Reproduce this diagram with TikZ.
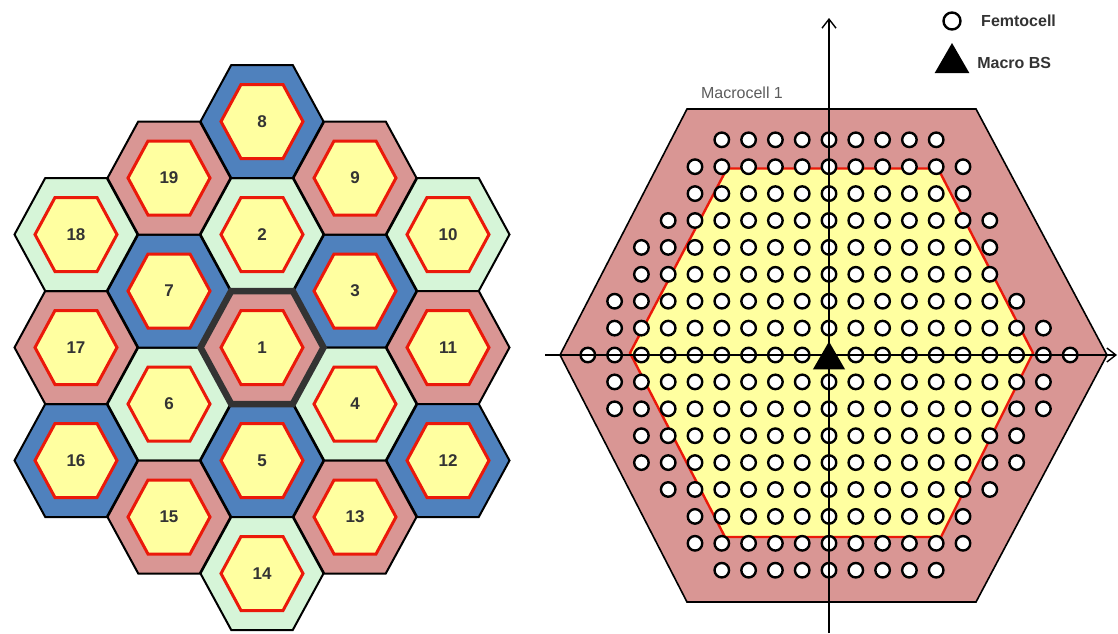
\documentclass[tikz,border=0pt]{standalone}
\usepackage{fontspec}
\setmainfont{Liberation Sans}
\usetikzlibrary{positioning, arrows.meta, shapes.geometric}

\definecolor{cellpink}{RGB}{217,150,148}
\definecolor{cellblue}{RGB}{79,129,189}
\definecolor{cellgreen}{RGB}{214,245,216}
\definecolor{cellyellow}{RGB}{255,255,160}
\definecolor{cellred}{RGB}{235,25,10}
\definecolor{labelgray}{RGB}{51,51,51}

\begin{document}
\begin{tikzpicture}[
  x=1pt, y=-1pt,
  outerhex/.style={draw=black, line width=2pt, line join=miter},
  innerhex/.style={draw=cellred, fill=cellyellow, line width=3pt, line join=miter},
  cellnum/.style={font=\bfseries\fontsize{17}{17}\selectfont, text=labelgray},
  femto/.style={circle, draw=black, fill=white, line width=2.4pt, minimum size=14.5pt, inner sep=0pt},
  bs/.style={regular polygon, regular polygon sides=3, fill=black, inner sep=0pt, minimum size=37pt},
  legendtext/.style={font=\bfseries\fontsize{16}{16}\selectfont, text=labelgray},
  axis/.style={line width=1.6pt, -{Straight Barb[length=9pt, width=14pt, line width=1.4pt]}}
]

\useasboundingbox (0,0) rectangle (1118,633);

% -------------------------
% LEFT: 19-CELL CLUSTER
% -------------------------

\foreach \n/\cx/\cy/\ring in {
  1/262/347.5/cellpink, 2/262/234.5/cellgreen, 3/355/291/cellblue,
  4/355/404/cellgreen, 5/262/460.5/cellblue, 6/169/404/cellgreen,
  7/169/291/cellblue, 8/262/121.5/cellblue, 9/355/178/cellpink,
  10/448/234.5/cellgreen, 11/448/347.5/cellpink, 12/448/460.5/cellblue,
  13/355/517/cellpink, 14/262/573.5/cellgreen, 15/169/517/cellpink,
  16/76/460.5/cellblue, 17/76/347.5/cellpink, 18/76/234.5/cellgreen,
  19/169/178/cellpink} {
  \draw[outerhex, fill=\ring]
    (\cx-61.5,\cy) -- (\cx-30.75,\cy-56.5) -- (\cx+30.75,\cy-56.5)
    -- (\cx+61.5,\cy) -- (\cx+30.75,\cy+56.5) -- (\cx-30.75,\cy+56.5) -- cycle;
  \draw[innerhex]
    (\cx-41,\cy) -- (\cx-21,\cy-37) -- (\cx+21,\cy-37)
    -- (\cx+41,\cy) -- (\cx+21,\cy+37) -- (\cx-21,\cy+37) -- cycle;
  \node[cellnum] (cell\n) at (\cx,\cy) {\n};
}

% serving cell outline
\draw[draw=labelgray, line width=6.5pt, line join=miter]
  (262-61.5,347.5) -- (262-30.75,291) -- (262+30.75,291)
  -- (262+61.5,347.5) -- (262+30.75,404) -- (262-30.75,404) -- cycle;

% -------------------------
% RIGHT: MACROCELL 1
% -------------------------

\draw[fill=cellpink, draw=black, line width=1.6pt]
  (560,355) -- (687,109) -- (976,109) -- (1107,355) -- (976,602) -- (687,602) -- cycle;
\draw[fill=cellyellow, draw=cellred, line width=2.4pt]
  (630,353) -- (727,168.5) -- (938,168.5) -- (1033,353) -- (941,537) -- (725,537) -- cycle;

\node[font=\fontsize{16}{16}\selectfont, text=labelgray!80] (macrolabel) at (742,93) {Macrocell 1};

% femtocell grid
\foreach \k/\lo/\hi in {-8/-4/4, -7/-5/5, -6/-5/5, -5/-6/6, -4/-7/6, -3/-7/6,
  -2/-8/7, -1/-8/8, 1/-8/8, 2/-8/8, 3/-7/7, 4/-7/7, 5/-6/6, 6/-5/5, 7/-5/5, 8/-4/4} {
  \foreach \j in {\lo,...,\hi}
    \node[femto] (fm\k x\j) at (829+26.8*\j, 355+26.9*\k) {};
}
\foreach \j in {-9,...,-1,1,2,...,9}
  \node[femto] (fm0x\j) at (829+26.8*\j, 355) {};

% axes
\coordinate (xl) at (545,355);
\coordinate (xr) at (1117,355);
\coordinate (yb) at (829,633);
\coordinate (yt) at (829,18);
\draw[axis] (xl) -- (xr);
\draw[axis] (yb) -- (yt);

\node[bs] (macrobs) at (829,360) {};

% -------------------------
% LEGEND
% -------------------------

\node[femto, minimum size=17pt] (legfemto) at (952,21) {};
\node[legendtext, right=16pt of legfemto] (legfemtotext) {Femtocell};
\node[bs, minimum size=40pt] (legbs) at (952,63) {};
\node[legendtext, right=10pt of legbs] (legbstext) {Macro BS};

\end{tikzpicture}
\end{document}
